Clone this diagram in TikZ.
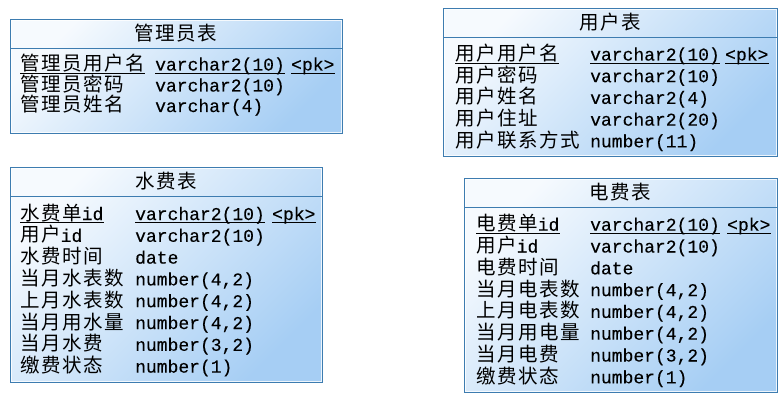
\documentclass[tikz,border=0pt]{standalone}
\usepackage{fontspec}
\setmainfont{Noto Sans CJK SC}[LetterSpace=8]
\setmonofont{Liberation Mono}[FakeBold=0.2]
\definecolor{tableline}{HTML}{3D7CB0}
\definecolor{boxlight}{HTML}{F6FAFE}
\definecolor{boxblue}{HTML}{A6CEF4}
\tikzset{
  tablebox/.style={draw=tableline, line width=1.2pt, anchor=north west, inner sep=0pt,
    top color=boxlight, bottom color=boxblue, shading angle=45},
  headline/.style={draw=tableline, line width=1pt},
  innerline/.style={draw=white, line width=0.6pt, opacity=0.8},
  tabletitle/.style={anchor=base, inner sep=0pt, font=\fontsize{19.5}{21}\selectfont},
  cell/.style={anchor=base west, inner sep=0pt, font=\fontsize{19.5}{21}\selectfont},
  typecell/.style={cell, font=\fontsize{18}{20}\selectfont\ttfamily},
  keyline/.style={draw=black, line width=0.8pt}
}
\begin{document}
\begin{tikzpicture}[x=1pt, y=-1pt]
        \useasboundingbox[fill=white] (0,0) rectangle (784,406);

        % boxes
        \node[tablebox, minimum width=332pt, minimum height=114pt] (admin) at (10,19) {};
        \node[tablebox, minimum width=334pt, minimum height=148pt] (user)  at (443,8) {};
        \node[tablebox, minimum width=312pt, minimum height=215pt] (water) at (10,167) {};
        \node[tablebox, minimum width=313pt, minimum height=214pt] (elec)  at (464,178) {};

        \foreach \t in {admin,user,water,elec}{
          \draw[innerline] ([shift={(1.5pt,-1.5pt)}]\t.north west) rectangle ([shift={(-1.5pt,1.5pt)}]\t.south east);
          \draw[headline] ([yshift=-29.5pt]\t.north west) -- ([yshift=-29.5pt]\t.north east);
        }

        % 管理员表
        \node[tabletitle] (admintitle) at (176,41) {管理员表};
        \node[cell]     (a1) at (20,70.5)  {管理员用户名};
        \node[typecell] (a1t) at (155,70.5) {varchar2(10)};
        \node[typecell] (a1k) at (291,70.5) {<pk>};
        \node[cell]     (a2) at (20,91.5)  {管理员密码};
        \node[typecell] (a2t) at (155,91.5) {varchar2(10)};
        \node[cell]     (a3) at (20,112)   {管理员姓名};
        \node[typecell] (a3t) at (155,112)  {varchar(4)};

        % 用户表
        \node[tabletitle] (usertitle) at (610,30) {用户表};
        \node[cell]     (u1) at (455,60.5)  {用户用户名};
        \node[typecell] (u1t) at (590,60.5) {varchar2(10)};
        \node[typecell] (u1k) at (725,60.5) {<pk>};
        \node[cell]     (u2) at (455,82.2)  {用户密码};
        \node[typecell] (u2t) at (590,82.2) {varchar2(10)};
        \node[cell]     (u3) at (455,103.9) {用户姓名};
        \node[typecell] (u3t) at (590,103.9) {varchar2(4)};
        \node[cell]     (u4) at (455,125.6) {用户住址};
        \node[typecell] (u4t) at (590,125.6) {varchar2(20)};
        \node[cell]     (u5) at (455,147.3) {用户联系方式};
        \node[typecell] (u5t) at (590,147.3) {number(11)};

        % 水费表
        \node[tabletitle] (watertitle) at (166,189) {水费表};
        \node[cell]     (w1) at (20,220)    {水费单{\fontsize{18}{20}\selectfont\ttfamily id}};
        \node[typecell] (w1t) at (135,220)  {varchar2(10)};
        \node[typecell] (w1k) at (272,220)  {<pk>};
        \node[cell]     (w2) at (20,241.8)  {用户{\fontsize{18}{20}\selectfont\ttfamily id}};
        \node[typecell] (w2t) at (135,241.8) {varchar2(10)};
        \node[cell]     (w3) at (20,263.6)  {水费时间};
        \node[typecell] (w3t) at (135,263.6) {date};
        \node[cell]     (w4) at (20,285.4)  {当月水表数};
        \node[typecell] (w4t) at (135,285.4) {number(4,2)};
        \node[cell]     (w5) at (20,307.2)  {上月水表数};
        \node[typecell] (w5t) at (135,307.2) {number(4,2)};
        \node[cell]     (w6) at (20,329)    {当月用水量};
        \node[typecell] (w6t) at (135,329)  {number(4,2)};
        \node[cell]     (w7) at (20,350.8)  {当月水费};
        \node[typecell] (w7t) at (135,350.8) {number(3,2)};
        \node[cell]     (w8) at (20,372.6)  {缴费状态};
        \node[typecell] (w8t) at (135,372.6) {number(1)};

        % 电费表
        \node[tabletitle] (electitle) at (620,200) {电费表};
        \node[cell]     (e1) at (476,230.7)  {电费单{\fontsize{18}{20}\selectfont\ttfamily id}};
        \node[typecell] (e1t) at (590,230.7) {varchar2(10)};
        \node[typecell] (e1k) at (727,230.7) {<pk>};
        \node[cell]     (e2) at (476,252.5)  {用户{\fontsize{18}{20}\selectfont\ttfamily id}};
        \node[typecell] (e2t) at (590,252.5) {varchar2(10)};
        \node[cell]     (e3) at (476,274.3)  {电费时间};
        \node[typecell] (e3t) at (590,274.3) {date};
        \node[cell]     (e4) at (476,296.1)  {当月电表数};
        \node[typecell] (e4t) at (590,296.1) {number(4,2)};
        \node[cell]     (e5) at (476,317.9)  {上月电表数};
        \node[typecell] (e5t) at (590,317.9) {number(4,2)};
        \node[cell]     (e6) at (476,339.7)  {当月用电量};
        \node[typecell] (e6t) at (590,339.7) {number(4,2)};
        \node[cell]     (e7) at (476,361.5)  {当月电费};
        \node[typecell] (e7t) at (590,361.5) {number(3,2)};
        \node[cell]     (e8) at (476,383.3)  {缴费状态};
        \node[typecell] (e8t) at (590,383.3) {number(1)};

        % key underlines
        \foreach \k in {a1,a1t,a1k,u1,u1t,u1k,w1,w1t,w1k,e1,e1t,e1k}{
          \draw[keyline] ([yshift=-2.5pt]\k.base west) -- ([yshift=-2.5pt]\k.base east);
        }
\end{tikzpicture}
\end{document}
